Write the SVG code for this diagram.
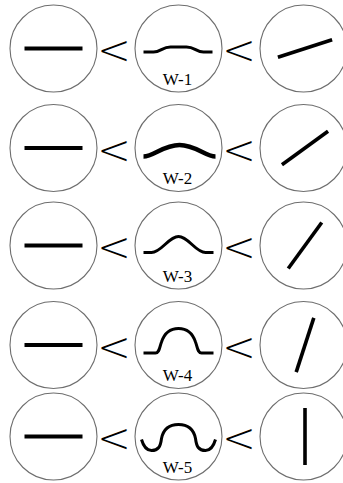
<svg xmlns="http://www.w3.org/2000/svg" width="343" height="483" viewBox="0 0 343 483">
  <defs>
    <style>
      .ring { fill: #fff; stroke: #6e6e6e; stroke-width: 1.1; }
      .bar { stroke: #000; stroke-width: 4; stroke-linecap: butt; fill: none; }
      .tilt { stroke: #000; stroke-width: 3.6; stroke-linecap: butt; fill: none; }
      .wave { stroke: #000; stroke-width: 3; fill: none; stroke-linejoin: round; }
      .lt { font-family: "DejaVu Sans", "Liberation Sans", sans-serif; font-weight: 200; font-size: 40px; fill: #000; text-anchor: middle; }
      .tag { font-family: "Liberation Serif", "DejaVu Serif", serif; font-size: 17px; fill: #000; text-anchor: middle; }
    </style>
    <circle id="ring" class="ring" r="43.5"/>
    <line id="flat" class="bar" x1="-29" y1="0" x2="29" y2="0"/>
    <line id="stick" class="tilt" x1="-28.5" y1="0" x2="28.5" y2="0"/>
  </defs>

  <!-- row 1 -->
  <g id="row1">
    <g id="flat-1" transform="translate(53.5,48.5)">
      <use href="#ring"/><use href="#flat"/>
    </g>
    <g id="wave-1" transform="translate(178.5,48.5)">
      <use href="#ring"/>
      <path class="wave" d="M-35,3.5 L-25,3.5 C-18,3.5 -16,-1.5 -8,-1.5 L8,-1.5 C16,-1.5 18,3.5 25,3.5 L34,3.5"/>
      <text class="tag" x="-1" y="36">W-1</text>
    </g>
    <g id="tilt-1" transform="translate(303.5,48.5)">
      <use href="#ring"/>
      <use href="#stick" transform="translate(1.5,0) rotate(-18)"/>
    </g>
  </g>

  <!-- row 2 -->
  <g id="row2">
    <g id="flat-2" transform="translate(53.5,148)">
      <use href="#ring"/><use href="#flat"/>
    </g>
    <g id="wave-2" transform="translate(178.5,148)">
      <use href="#ring"/>
      <path class="wave" style="stroke-width:4.5" d="M-35,8.5 C-25,8.5 -15,-3 1,-3 C17,-3 27,8.5 37,8.5"/>
      <text class="tag" x="-1" y="36">W-2</text>
    </g>
    <g id="tilt-2" transform="translate(303.5,148)">
      <use href="#ring"/>
      <use href="#stick" transform="translate(1.5,0) rotate(-36)"/>
    </g>
  </g>

  <!-- row 3 -->
  <g id="row3">
    <g id="flat-3" transform="translate(53.5,245.5)">
      <use href="#ring"/><use href="#flat"/>
    </g>
    <g id="wave-3" transform="translate(178.5,245.5)">
      <use href="#ring"/>
      <path class="wave" d="M-35,7 L-27,7 C-17,7 -10,-9 0,-9 C10,-9 17,7 27,7 L35,7"/>
      <text class="tag" x="-1" y="36">W-3</text>
    </g>
    <g id="tilt-3" transform="translate(303.5,245.5)">
      <use href="#ring"/>
      <use href="#stick" transform="translate(1.5,0) rotate(-54)"/>
    </g>
  </g>

  <!-- row 4 -->
  <g id="row4">
    <g id="flat-4" transform="translate(53.5,345)">
      <use href="#ring"/><use href="#flat"/>
    </g>
    <g id="wave-4" transform="translate(178.5,345)">
      <use href="#ring"/>
      <path class="wave" d="M-35,8 L-23,8 C-19,8 -19,2 -17,-3 C-14,-12 -8,-16.5 0,-16.5 C8,-16.5 14,-12 17,-3 C19,2 19,8 23,8 L35,8"/>
      <text class="tag" x="-1" y="36">W-4</text>
    </g>
    <g id="tilt-4" transform="translate(303.5,345)">
      <use href="#ring"/>
      <use href="#stick" transform="translate(1.5,0) rotate(-72)"/>
    </g>
  </g>

  <!-- row 5 -->
  <g id="row5">
    <g id="flat-5" transform="translate(53.5,436.5)">
      <use href="#ring"/><use href="#flat"/>
    </g>
    <g id="wave-5" transform="translate(178.5,436.5)">
      <use href="#ring"/>
      <path class="wave" d="M-37,3 C-35,10 -32,14 -27,14 C-20,14 -18,10 -17,2 C-15,-8 -8,-12 0,-12 C8,-12 15,-8 17,2 C18,10 20,14 27,14 C32,14 35,10 37,3"/>
      <text class="tag" x="-1" y="36">W-5</text>
    </g>
    <g id="tilt-5" transform="translate(303.5,436.5)">
      <use href="#ring"/>
      <use href="#stick" transform="translate(1.5,0) rotate(-90)"/>
    </g>
  </g>

  <!-- ordering signs between the circles -->
  <g id="connectors">
    <text class="lt" x="114" y="64">&lt;</text>
    <text class="lt" x="239" y="64">&lt;</text>
    <text class="lt" x="114" y="163.5">&lt;</text>
    <text class="lt" x="239" y="163.5">&lt;</text>
    <text class="lt" x="114" y="261">&lt;</text>
    <text class="lt" x="239" y="261">&lt;</text>
    <text class="lt" x="114" y="360.5">&lt;</text>
    <text class="lt" x="239" y="360.5">&lt;</text>
    <text class="lt" x="114" y="452">&lt;</text>
    <text class="lt" x="239" y="452">&lt;</text>
  </g>
</svg>
